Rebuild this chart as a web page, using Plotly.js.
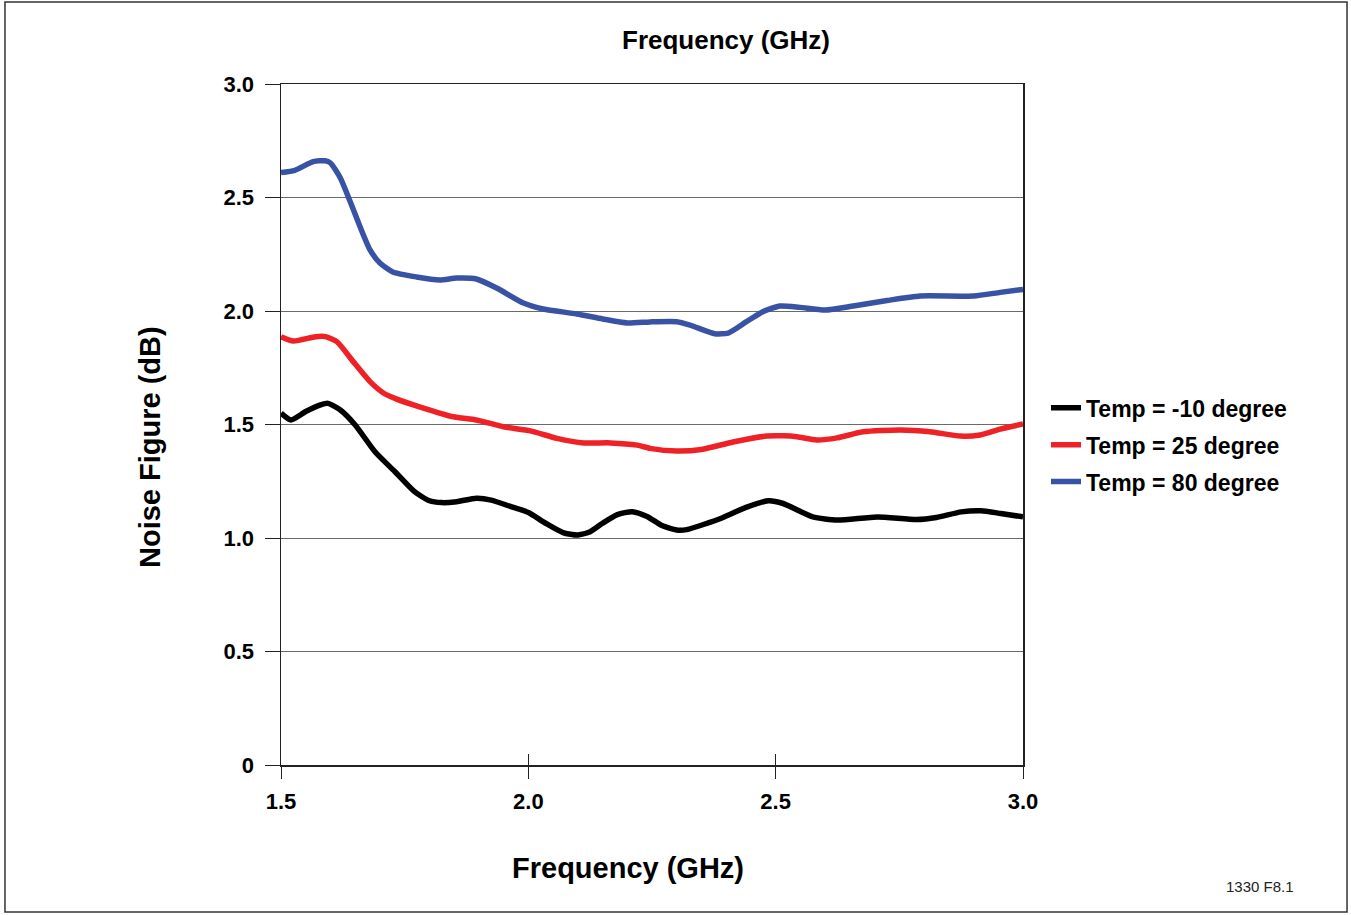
<!DOCTYPE html>
<html>
<head>
<meta charset="utf-8">
<script src="https://cdn.plot.ly/plotly-3.0.1.min.js"></script>
<style>
  html, body { margin: 0; padding: 0; background: #fff; }
  #chart { width: 1351px; height: 915px; }
</style>
</head>
<body>
<div id="chart"></div>
<script>
// ---- data ----
const seriesNames = ["Temp = -10 degree", "Temp = 25 degree", "Temp = 80 degree"];

const freqM10 = [1.50,1.52,1.55,1.58,1.595,1.62,1.65,1.69,1.73,1.77,1.80,1.825,1.855,1.895,1.925,1.965,2.00,2.035,2.07,2.10,2.125,2.15,2.18,2.21,2.24,2.27,2.30,2.32,2.39,2.44,2.485,2.515,2.575,2.625,2.705,2.785,2.825,2.875,2.915,2.955,3.00];
const nfM10   = [1.55,1.52,1.557,1.586,1.593,1.564,1.498,1.38,1.293,1.204,1.164,1.156,1.16,1.175,1.167,1.138,1.112,1.065,1.024,1.013,1.028,1.065,1.103,1.116,1.095,1.055,1.035,1.037,1.087,1.135,1.164,1.152,1.093,1.079,1.093,1.081,1.09,1.115,1.12,1.108,1.093];

const freq25 = [1.50,1.525,1.57,1.59,1.613,1.646,1.68,1.707,1.734,1.78,1.848,1.895,1.95,2.004,2.058,2.112,2.166,2.22,2.246,2.30,2.35,2.414,2.482,2.516,2.543,2.583,2.624,2.677,2.752,2.812,2.873,2.913,2.954,3.00];
const nf25   = [1.887,1.868,1.887,1.887,1.865,1.777,1.689,1.639,1.612,1.578,1.534,1.52,1.49,1.472,1.439,1.419,1.419,1.409,1.395,1.383,1.39,1.423,1.449,1.45,1.446,1.432,1.441,1.468,1.476,1.468,1.449,1.454,1.48,1.502];

const freq80 = [1.50,1.528,1.565,1.589,1.60,1.62,1.64,1.66,1.68,1.70,1.726,1.774,1.821,1.855,1.895,1.936,1.99,2.03,2.098,2.15,2.20,2.246,2.30,2.327,2.377,2.404,2.441,2.474,2.509,2.549,2.60,2.657,2.725,2.792,2.90,2.954,3.00];
const nf80   = [2.61,2.62,2.658,2.662,2.652,2.586,2.481,2.37,2.269,2.211,2.172,2.15,2.137,2.145,2.141,2.101,2.035,2.009,1.987,1.965,1.947,1.952,1.953,1.938,1.90,1.903,1.953,1.997,2.022,2.016,2.004,2.022,2.046,2.066,2.066,2.082,2.095];

const xTickVals = [1.5, 2.0, 2.5, 3.0];
const xTickText = ["1.5", "2.0", "2.5", "3.0"];
const yTickVals = [0, 0.5, 1.0, 1.5, 2.0, 2.5, 3.0];
const yTickText = ["0", "0.5", "1.0", "1.5", "2.0", "2.5", "3.0"];

const titleText = "Frequency (GHz)";
const xTitleText = "Frequency (GHz)";
const yTitleText = "Noise Figure (dB)";
const noteText = "1330 F8.1";

// ---- styles ----
const colors = ["#000000", "#ee2226", "#3953a4"];
const FONT = "Liberation Sans, Arial, Helvetica, sans-serif";

function mk(x, y, i) {
  return {
    x: x, y: y, name: seriesNames[i], type: "scatter", mode: "lines",
    line: { color: colors[i], width: 5.5, shape: "spline", smoothing: 0.6 },
    legendgroup: "g" + i, hoverinfo: "x+y"
  };
}

const traces = [mk(freqM10, nfM10, 0), mk(freq25, nf25, 1), mk(freq80, nf80, 2)];

const layout = {
  width: 1351, height: 915,
  margin: { l: 281, r: 328, t: 84, b: 150, pad: 0 },
  paper_bgcolor: "#ffffff", plot_bgcolor: "#ffffff",
  font: { family: FONT, color: "#000" },
  showlegend: true,
  legend: {
    x: 1.031, y: 0.556, xanchor: "left", yanchor: "top",
    font: { family: FONT, size: 23, color: "#000", weight: "bold" },
    tracegroupgap: 4, traceorder: "grouped",
    bgcolor: "rgba(0,0,0,0)", borderwidth: 0
  },
  xaxis: {
    range: [1.5, 3.0], tickvals: xTickVals, ticktext: xTickText,
    ticks: "outside", ticklen: 12, tickwidth: 1, tickcolor: "#222",
    showline: true, linecolor: "#222", linewidth: 1.5, mirror: true,
    showgrid: false, zeroline: false,
    tickfont: { family: FONT, size: 22, weight: "bold" },
    ticklabelstandoff: 4
  },
  xaxis2: {
    range: [1.5, 3.0], overlaying: "x", anchor: "y", side: "bottom",
    tickvals: xTickVals, ticks: "inside", ticklen: 11, tickwidth: 1, tickcolor: "#222",
    showticklabels: false, showline: false, showgrid: false, zeroline: false
  },
  yaxis: {
    range: [0, 3.0], tickvals: yTickVals, ticktext: yTickText,
    ticks: "outside", ticklen: 15, tickwidth: 1, tickcolor: "#222",
    showline: true, linecolor: "#222", linewidth: 1.5, mirror: true,
    showgrid: true, gridcolor: "#6a6a6a", gridwidth: 1, zeroline: false,
    tickfont: { family: FONT, size: 22, weight: "bold" },
    ticklabelstandoff: 6
  },
  annotations: [
    { text: titleText, xref: "paper", yref: "paper", x: 0.5997, y: 1.0646,
      xanchor: "center", yanchor: "middle", showarrow: false,
      font: { family: FONT, size: 26, weight: "bold" } },
    { text: xTitleText, xref: "paper", yref: "paper", x: 0.4677, y: -0.1512,
      xanchor: "center", yanchor: "middle", showarrow: false,
      font: { family: FONT, size: 29, weight: "bold" } },
    { text: yTitleText, xref: "paper", yref: "paper", x: -0.1765, y: 0.467,
      xanchor: "center", yanchor: "middle", showarrow: false, textangle: -90,
      font: { family: FONT, size: 29, weight: "bold" } },
    { text: noteText, xref: "paper", yref: "paper", x: 1.3194, y: -0.1777,
      xanchor: "center", yanchor: "middle", showarrow: false,
      font: { family: FONT, size: 15, color: "#222" } }
  ],
  shapes: [
    { type: "rect", xref: "paper", yref: "paper",
      x0: -0.3720, x1: 1.4367, y0: -0.2159, y1: 1.1204,
      line: { color: "#333", width: 1.5 }, fillcolor: "rgba(0,0,0,0)", layer: "below" }
  ]
};

traces.push({ x: [1.5], y: [null], xaxis: "x2", yaxis: "y", type: "scatter", mode: "lines",
  showlegend: false, hoverinfo: "skip" });

Plotly.newPlot("chart", traces, layout, { staticPlot: true, displayModeBar: false });
</script>
</body>
</html>
